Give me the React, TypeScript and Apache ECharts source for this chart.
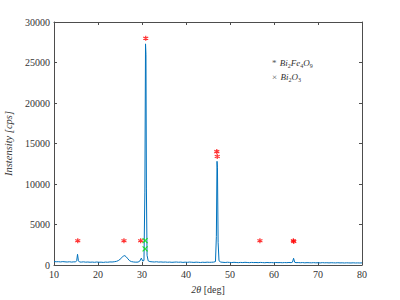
import React, { useEffect, useRef } from "react";
import * as echarts from "echarts";

const twoTheta = [
  10, 10.5, 11, 11.5, 12, 12.5, 13, 13.5, 14, 14.5, 14.9, 15.15, 15.35, 15.55, 15.8, 16.2, 16.7, 17.2, 17.7, 18.2,
  18.7, 19.2, 19.7, 20.2, 20.7, 21.2, 21.7, 22.2, 22.7, 23.2, 23.7, 24.2, 24.6, 25.0, 25.4, 25.8, 26.1, 26.4, 26.8, 27.2,
  27.6, 28.1, 28.6, 29.1, 29.5, 29.85, 30.15, 30.45, 30.65, 30.8, 30.9, 31.0, 31.15, 31.4, 31.8, 32.3, 32.8, 33.3, 33.8, 34.3,
  34.8, 35.3, 35.8, 36.3, 36.8, 37.3, 37.8, 38.3, 38.8, 39.3, 39.8, 40.3, 40.8, 41.3, 41.8, 42.3, 42.8, 43.3, 43.8, 44.3,
  44.8, 45.3, 45.8, 46.3, 46.7, 46.9, 47.05, 47.15, 47.3, 47.5, 47.9, 48.4, 48.9, 49.4, 49.9, 50.4, 50.9, 51.4, 51.9, 52.4,
  52.9, 53.4, 53.9, 54.4, 54.9, 55.4, 55.9, 56.4, 56.9, 57.4, 57.9, 58.4, 58.9, 59.4, 59.9, 60.4, 60.9, 61.4, 61.9, 62.4,
  62.9, 63.4, 63.9, 64.2, 64.45, 64.7, 65.0, 65.5, 66.0, 66.5, 67.0, 67.5, 68.0, 68.5, 69.0, 69.5, 70.0, 70.5, 71.0, 71.5,
  72.0, 72.5, 73.0, 73.5, 74.0, 74.5, 75.0, 75.5, 76.0, 76.5, 77.0, 77.5, 78.0, 78.5, 79.0, 79.5, 80,
];

const intensity = [
  430, 400, 410, 380, 420, 390, 370, 400, 360, 390, 380, 520, 1320, 520, 370, 360, 390, 350, 370, 340,
  360, 330, 370, 340, 350, 320, 360, 340, 380, 370, 400, 450, 540, 700, 900, 1130, 1150, 1020, 760, 520,
  420, 370, 350, 360, 480, 850, 480, 560, 9000, 27300, 26000, 9500, 1200, 520, 420, 390, 370, 400, 360, 380,
  350, 370, 340, 360, 330, 350, 370, 340, 360, 320, 350, 330, 360, 340, 320, 350, 330, 310, 340, 320,
  350, 330, 340, 360, 420, 3500, 12800, 12000, 2800, 520, 360, 330, 310, 340, 320, 300, 330, 310, 290, 320,
  300, 330, 310, 290, 320, 300, 310, 290, 320, 300, 280, 310, 290, 300, 280, 310, 290, 300, 280, 300,
  290, 310, 290, 350, 830, 340, 290, 300, 280, 300, 270, 290, 280, 270, 290, 270, 280, 260, 290, 270,
  280, 260, 280, 270, 260, 280, 260, 270, 250, 270, 260, 250, 270, 250, 260, 250, 260,
];

const bfoTheta = [15.4, 25.9, 29.7, 30.85, 47.0, 47.1, 56.8, 64.4, 64.5];
const bfoIntensity = [3000, 3000, 3000, 28000, 14000, 13400, 3000, 3000, 2900];
const bi2o3Theta = [30.7, 30.7];
const bi2o3Intensity = [3000, 2000];

const xTicks = [10, 20, 30, 40, 50, 60, 70, 80];
const yTicks = [0, 5000, 10000, 15000, 20000, 25000, 30000];

const ASTERISK = "path://M0,-5L0,5M-4.33,-2.5L4.33,2.5M-4.33,2.5L4.33,-2.5";
const CROSS = "path://M-4,-4L4,4M-4,4L4,-4";
const FONT = "Liberation Serif";
const AXIS = "#4d4d4d";

export default function App() {
  const ref = useRef<HTMLDivElement>(null);
  useEffect(() => {
    if (!ref.current) return;
    const chart = echarts.init(ref.current, null, { renderer: "svg" });
    const xMin = xTicks[0];
    const xMax = xTicks[xTicks.length - 1];
    const xInt = xTicks[1] - xTicks[0];
    const yMin = yTicks[0];
    const yMax = yTicks[yTicks.length - 1];
    const yInt = yTicks[1] - yTicks[0];
    const axisCommon = {
      axisLine: { show: true, onZero: false, lineStyle: { color: AXIS, width: 1 } },
      axisTick: { show: true, inside: true, length: 3, lineStyle: { color: AXIS } },
      splitLine: { show: false },
    };
    chart.setOption({
      animation: false,
      backgroundColor: "#ffffff",
      textStyle: { fontFamily: FONT },
      grid: { left: 54, top: 22, right: 38, bottom: 35, containLabel: false, outerBoundsMode: "none" },
      xAxis: [
        {
          type: "value",
          min: xMin,
          max: xMax,
          interval: xInt,
          ...axisCommon,
          axisLabel: { color: "#333", fontFamily: FONT, fontSize: 10, margin: 4, formatter: (v: number) => String(v) },
          name: "{i|2θ} [deg]",
          nameLocation: "middle",
          nameGap: 19,
          nameTextStyle: {
            color: "#333",
            fontFamily: FONT,
            fontSize: 10,
            rich: { i: { fontStyle: "italic", fontFamily: FONT, fontSize: 10, color: "#333" } },
          },
        },
        {
          type: "value",
          position: "top",
          min: xMin,
          max: xMax,
          interval: xInt,
          ...axisCommon,
          axisLabel: { show: false },
        },
      ],
      yAxis: [
        {
          type: "value",
          min: yMin,
          max: yMax,
          interval: yInt,
          ...axisCommon,
          axisLabel: { color: "#333", fontFamily: FONT, fontSize: 10, margin: 4, formatter: (v: number) => String(v) },
          name: "Instensity [cps]",
          nameLocation: "middle",
          nameGap: 36,
          nameRotate: 90,
          nameTextStyle: { color: "#333", fontFamily: FONT, fontSize: 10.5, fontStyle: "italic" },
        },
        {
          type: "value",
          position: "right",
          min: yMin,
          max: yMax,
          interval: yInt,
          ...axisCommon,
          axisLabel: { show: false },
        },
      ],
      series: [
        {
          name: "XRD",
          type: "line",
          data: twoTheta.map((t, i) => [t, intensity[i]]),
          showSymbol: false,
          lineStyle: { color: "#0072BD", width: 1 },
          itemStyle: { color: "#0072BD" },
          z: 2,
        },
        {
          name: "Bi2Fe4O9",
          type: "scatter",
          data: bfoTheta.map((t, i) => [t, bfoIntensity[i]]),
          symbol: ASTERISK,
          symbolSize: 5,
          itemStyle: { color: "rgba(0,0,0,0)", borderColor: "#ff0000", borderWidth: 1.2 },
          z: 3,
        },
        {
          name: "Bi2O3",
          type: "scatter",
          data: bi2o3Theta.map((t, i) => [t, bi2o3Intensity[i]]),
          symbol: CROSS,
          symbolSize: 5,
          itemStyle: { color: "rgba(0,0,0,0)", borderColor: "#00e000", borderWidth: 1.2 },
          z: 3,
        },
      ],
      graphic: [
        {
          type: "text",
          left: 272,
          top: 57,
          style: {
            text: "{s|*} {i|Bi}{sub|2}{i|Fe}{sub|4}{i|O}{sub|9}",
            rich: {
              s: { fontSize: 9, fill: "#555", fontFamily: FONT },
              i: { fontSize: 9, fontStyle: "italic", fill: "#333", fontFamily: FONT },
              sub: { fontSize: 6, fill: "#333", fontFamily: FONT, padding: [5, 0, 0, 0] },
            },
          },
        },
        {
          type: "text",
          left: 272,
          top: 71,
          style: {
            text: "{s|×} {i|Bi}{sub|2}{i|O}{sub|3}",
            rich: {
              s: { fontSize: 9, fill: "#555", fontFamily: FONT },
              i: { fontSize: 9, fontStyle: "italic", fill: "#333", fontFamily: FONT },
              sub: { fontSize: 6, fill: "#333", fontFamily: FONT, padding: [5, 0, 0, 0] },
            },
          },
        },
      ],
    });
    return () => chart.dispose();
  }, []);
  return <div ref={ref} style={{ width: 400, height: 300, position: "absolute", left: 0, top: 0 }} />;
}
